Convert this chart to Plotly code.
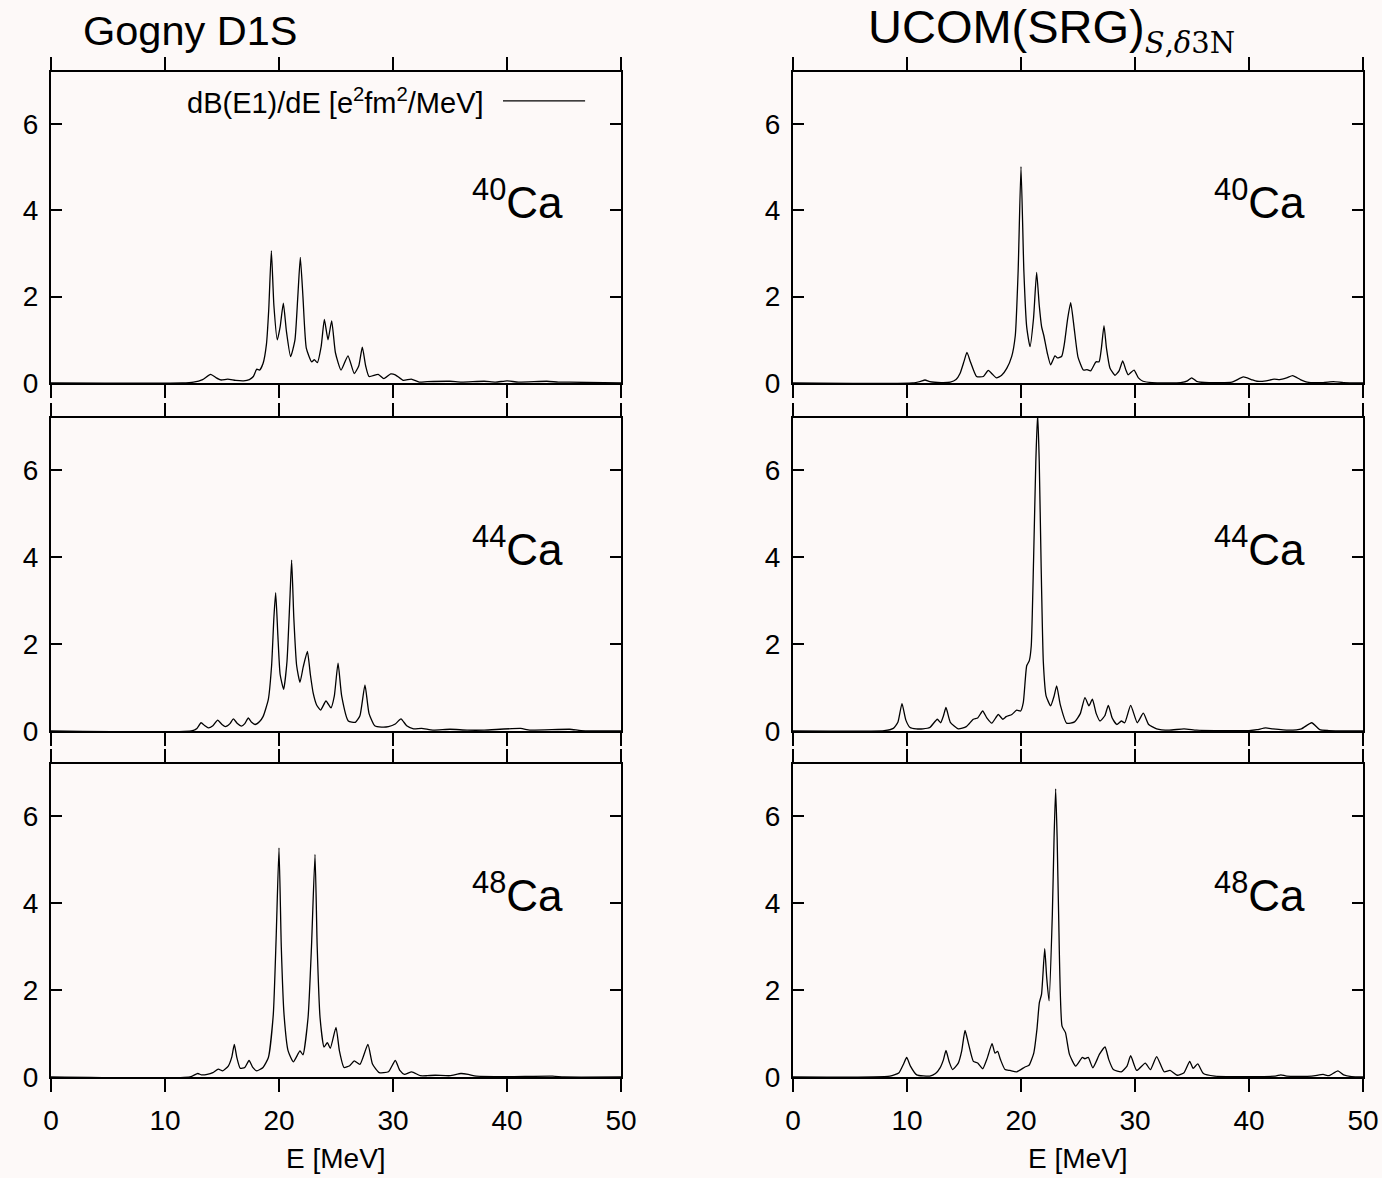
import plotly.graph_objects as go

# ---------------- data ----------------
panel_titles = ["Gogny D1S",
                "UCOM(SRG)<sub><span style=\"font-family:'DejaVu Serif',serif;font-size:29px\"><i>S</i>,<i>δ</i>3N</span></sub>"]
nuclei = ["40", "44", "48"]
x_ticks = [0, 10, 20, 30, 40, 50]
y_ticks = [0, 2, 4, 6]

gogny40_E = [0, 11.5, 12.5, 13.3, 14.0, 14.5, 14.9, 15.5, 16.2, 16.9, 17.4, 17.75, 18.05, 18.3, 18.6, 18.9, 19.1,
             19.33, 19.55, 19.85, 20.1, 20.38, 20.65, 21.02, 21.4, 21.65, 21.87, 22.1, 22.4, 22.87, 23.1, 23.36,
             23.7, 23.98, 24.3, 24.62, 24.95, 25.44, 26.05, 26.6, 27.0, 27.31, 27.6, 27.9, 28.7, 29.2, 29.8, 30.2,
             30.9, 31.6, 32.3, 33.0, 35.0, 36.0, 38.0, 39.0, 40.0, 41.0, 43.5, 44.5, 45.5, 50]
gogny40_B = [0, 0.0, 0.02, 0.08, 0.20, 0.12, 0.07, 0.09, 0.06, 0.05, 0.08, 0.15, 0.32, 0.30, 0.45, 0.9, 1.7,
             3.06, 1.8, 1.0, 1.3, 1.85, 1.2, 0.61, 1.0, 2.0, 2.91, 2.0, 0.8, 0.49, 0.54, 0.47,
             0.85, 1.47, 1.0, 1.44, 0.7, 0.30, 0.63, 0.22, 0.4, 0.83, 0.4, 0.15, 0.20, 0.10, 0.21, 0.19,
             0.06, 0.09, 0.02, 0.03, 0.04, 0.02, 0.04, 0.02, 0.05, 0.02, 0.04, 0.02, 0.02, 0]

ucom40_E = [0, 10.5, 11.2, 11.58, 12.0, 13.0, 13.8, 14.3, 14.65, 15.0, 15.26, 15.55, 16.1, 16.7, 17.13, 17.5,
            17.85, 18.3, 18.75, 19.18, 19.5, 19.75, 20.0, 20.25, 20.5, 20.79, 21.1, 21.37, 21.6, 21.81, 22.0,
            22.3, 22.6, 22.98, 23.2, 23.57, 23.8, 24.1, 24.36, 24.65, 25.0, 25.47, 25.8, 26.1, 26.58, 26.85,
            27.05, 27.28, 27.5, 27.8, 28.25, 28.6, 28.92, 29.2, 29.4, 29.91, 30.3, 30.7, 31.5, 34.0, 34.6,
            34.97, 35.4, 36.5, 38.5, 39.5, 40.2, 40.7, 41.5, 42.2, 42.7, 43.3, 43.83, 44.5, 45.1, 46.5, 47.4,
            48.3, 50]
ucom40_B = [0, 0, 0.04, 0.07, 0.03, 0.01, 0.02, 0.08, 0.22, 0.5, 0.71, 0.5, 0.15, 0.15, 0.29, 0.2,
            0.12, 0.18, 0.34, 0.61, 1.1, 2.6, 5.01, 2.6, 1.3, 0.84, 1.5, 2.56, 1.8, 1.30, 1.1,
            0.7, 0.42, 0.63, 0.58, 0.62, 0.9, 1.5, 1.86, 1.3, 0.6, 0.30, 0.31, 0.28, 0.49, 0.49,
            0.8, 1.33, 0.8, 0.35, 0.18, 0.28, 0.51, 0.3, 0.19, 0.30, 0.12, 0.04, 0.01, 0.01, 0.05,
            0.12, 0.04, 0.01, 0.02, 0.14, 0.08, 0.04, 0.05, 0.09, 0.08, 0.12, 0.17, 0.08, 0.02, 0.01, 0.03,
            0.01, 0]

gogny44_E = [0, 12.3, 12.8, 13.16, 13.5, 13.8, 14.2, 14.62, 15.0, 15.3, 15.7, 16.0, 16.35, 16.7, 17.0, 17.31,
             17.6, 17.9, 18.3, 18.6, 19.06, 19.35, 19.55, 19.71, 19.9, 20.1, 20.41, 20.7, 20.95, 21.11, 21.3,
             21.55, 21.84, 22.13, 22.49, 22.75, 23.0, 23.3, 23.65, 24.12, 24.56, 24.85, 25.18, 25.5, 26.08,
             26.7, 27.1, 27.54, 27.9, 28.4, 29.0, 29.6, 30.2, 30.7, 31.2, 31.8, 32.5, 33.5, 35.0, 36.5, 38.0,
             41.2, 42.0, 45.5, 46.5, 50]
gogny44_B = [0, 0, 0.06, 0.19, 0.12, 0.07, 0.12, 0.25, 0.15, 0.10, 0.17, 0.28, 0.17, 0.11, 0.17, 0.30,
             0.2, 0.15, 0.22, 0.33, 0.72, 1.5, 2.6, 3.18, 2.2, 1.3, 0.96, 1.6, 3.0, 3.93, 2.6,
             1.5, 1.12, 1.48, 1.83, 1.3, 0.87, 0.6, 0.48, 0.69, 0.53, 0.8, 1.56, 0.8, 0.23,
             0.20, 0.35, 1.06, 0.4, 0.12, 0.09, 0.10, 0.16, 0.28, 0.12, 0.05, 0.06, 0.02, 0.04, 0.02, 0.02,
             0.06, 0.02, 0.04, 0.01, 0]

ucom44_E = [0, 8.0, 8.8, 9.2, 9.56, 9.9, 10.27, 10.8, 11.4, 12.0, 12.66, 12.95, 13.2, 13.42, 13.8, 14.5, 15.2,
            15.82, 16.2, 16.64, 17.0, 17.44, 18.01, 18.4, 18.7, 19.2, 19.62, 19.97, 20.2, 20.5, 20.73, 20.9,
            21.1, 21.3, 21.46, 21.6, 21.76, 21.96, 22.2, 22.6, 22.9, 23.13, 23.45, 24.0, 24.7, 25.2, 25.61,
            25.96, 26.26, 26.6, 26.93, 27.35, 27.66, 28.0, 28.4, 28.8, 29.1, 29.62, 30.2, 30.73, 31.2, 31.9,
            33.0, 34.3, 35.4, 37.0, 40.0, 40.7, 41.46, 42.1, 43.5, 44.6, 45.5, 46.2, 47.0, 50]
ucom44_B = [0, 0.01, 0.06, 0.2, 0.63, 0.25, 0.08, 0.05, 0.05, 0.08, 0.27, 0.19, 0.35, 0.54, 0.2, 0.05, 0.1,
            0.27, 0.3, 0.46, 0.3, 0.18, 0.38, 0.27, 0.33, 0.38, 0.48, 0.46, 0.65, 1.50, 1.62, 1.96,
            3.9, 6.2, 7.3, 6.2, 3.9, 1.58, 0.81, 0.58, 0.8, 1.04, 0.6, 0.18, 0.21, 0.4, 0.77,
            0.58, 0.73, 0.4, 0.23, 0.35, 0.59, 0.3, 0.15, 0.23, 0.19, 0.59, 0.19, 0.41, 0.15, 0.05,
            0.02, 0.05, 0.02, 0.01, 0.01, 0.03, 0.07, 0.05, 0.02, 0.05, 0.19, 0.03, 0.01, 0]

gogny48_E = [0, 12.2, 12.87, 13.2, 13.7, 14.2, 14.68, 15.06, 15.55, 15.85, 16.08, 16.3, 16.6, 17.0, 17.37, 17.7,
             18.05, 18.6, 19.07, 19.5, 19.75, 20.0, 20.2, 20.44, 20.8, 21.26, 21.84, 22.1, 22.55, 22.85, 23.16,
             23.35, 23.6, 23.95, 24.24, 24.5, 25.0, 25.3, 25.7, 26.2, 26.6, 27.1, 27.8, 28.2, 28.8, 29.6, 30.2,
             30.6, 31.0, 31.64, 32.4, 33.0, 33.7, 35.0, 35.96, 36.6, 37.3, 40.0, 44.0, 45.0, 50]
gogny48_B = [0, 0, 0.08, 0.05, 0.06, 0.10, 0.18, 0.14, 0.25, 0.45, 0.75, 0.45, 0.20, 0.22, 0.38, 0.22,
             0.14, 0.22, 0.45, 1.44, 3.2, 5.27, 3.0, 1.44, 0.6, 0.35, 0.60, 0.51, 1.37, 3.0, 5.12,
             3.0, 1.37, 0.69, 0.79, 0.66, 1.14, 0.6, 0.22, 0.26, 0.37, 0.29, 0.75, 0.3, 0.10, 0.12, 0.38,
             0.15, 0.06, 0.12, 0.03, 0.03, 0.04, 0.03, 0.08, 0.06, 0.02, 0.01, 0.02, 0.0, 0]

ucom48_E = [0, 8.5, 9.3, 9.7, 9.97, 10.3, 10.85, 12.0, 12.5, 12.9, 13.2, 13.42, 13.7, 14.0, 14.5, 14.8, 15.09,
            15.38, 15.82, 16.2, 16.64, 17.05, 17.46, 17.72, 17.95, 18.2, 18.6, 19.03, 19.62, 20.35, 20.7, 21.12,
            21.4, 21.61, 21.8, 22.08, 22.25, 22.46, 22.75, 22.9, 23.04, 23.17, 23.3, 23.6, 23.9, 24.25, 24.8,
            25.38, 25.6, 25.9, 26.3, 26.9, 27.37, 27.7, 28.1, 28.8, 29.3, 29.62, 30.15, 30.9, 31.35, 31.9,
            32.55, 33.07, 33.7, 34.3, 34.8, 35.1, 35.5, 36.0, 37.0, 38.0, 42.3, 42.8, 43.3, 45.5, 46.5, 47.0,
            47.8, 48.3, 49.0, 50]
ucom48_B = [0, 0.02, 0.1, 0.3, 0.45, 0.25, 0.05, 0.02, 0.08, 0.21, 0.4, 0.61, 0.35, 0.17, 0.32, 0.6, 1.07,
            0.78, 0.36, 0.32, 0.19, 0.44, 0.77, 0.55, 0.59, 0.4, 0.17, 0.15, 0.12, 0.23, 0.27, 0.55,
            1.1, 1.71, 1.9, 2.95, 2.3, 1.75, 3.75, 5.5, 6.63, 5.5, 3.75, 1.17, 1.02, 0.52, 0.25,
            0.45, 0.42, 0.45, 0.21, 0.53, 0.69, 0.4, 0.17, 0.12, 0.25, 0.49, 0.15, 0.32, 0.17, 0.47,
            0.12, 0.15, 0.04, 0.1, 0.36, 0.2, 0.3, 0.08, 0.02, 0.01, 0.02, 0.05, 0.02, 0.02, 0.06, 0.03,
            0.14, 0.05, 0.01, 0]

series = [
    [(gogny40_E, gogny40_B), (ucom40_E, ucom40_B)],
    [(gogny44_E, gogny44_B), (ucom44_E, ucom44_B)],
    [(gogny48_E, gogny48_B), (ucom48_E, ucom48_B)],
]

legend_text = "dB(E1)/dE [e<sup>2</sup>fm<sup>2</sup>/MeV]"
x_title = "E [MeV]"

# ---------------- layout ----------------
W, H = 1382, 1178
BG = "#fdf9f8"
FONT = "Liberation Sans, Arial, Helvetica, sans-serif"

col_px = [(51, 621), (793, 1363)]
row_px = [(72, 383), (418, 731), (764, 1077)]

fig = go.Figure()
layout = dict(
    width=W, height=H, margin=dict(l=0, r=0, t=0, b=0, autoexpand=False),
    paper_bgcolor=BG, plot_bgcolor=BG, showlegend=False,
    font=dict(family=FONT, size=28, color="black"),
)
annotations = []
shapes = []

for r in range(3):
    for c in range(2):
        n = r * 2 + c + 1
        xs = "" if n == 1 else str(n)
        E, B = series[r][c]
        fig.add_trace(go.Scatter(
            x=E, y=B, mode="lines", xaxis="x" + xs, yaxis="y" + xs,
            line=dict(color="black", width=1.3, shape="spline", smoothing=0.5),
            hoverinfo="skip"))
        x0, x1 = col_px[c]
        y0, y1 = row_px[r]
        layout["xaxis" + xs] = dict(
            domain=[x0 / W, x1 / W], range=[0, 50], anchor="y" + xs, automargin=False,
            tickvals=x_ticks, ticks="outside", ticklen=13, tickwidth=2, tickcolor="black",
            showline=True, linewidth=2, linecolor="black", mirror="allticks",
            showgrid=False, zeroline=False, showticklabels=(r == 2),
            tickfont=dict(size=28, family=FONT), ticklabelstandoff=4,
        )
        layout["yaxis" + xs] = dict(
            domain=[1 - y1 / H, 1 - y0 / H], range=[0, 7.2], anchor="x" + xs, automargin=False,
            tickvals=y_ticks, ticks="inside", ticklen=11, tickwidth=2, tickcolor="black",
            showline=True, linewidth=2, linecolor="black", mirror="allticks",
            showgrid=False, zeroline=False,
            tickfont=dict(size=28, family=FONT), ticklabelstandoff=5,
        )
        annotations.append(dict(
            text="<sup>" + nuclei[r] + "</sup>Ca", xref="x" + xs + " domain", yref="y" + xs + " domain",
            x=0.902, y=0.59, xanchor="right", yanchor="middle", showarrow=False,
            font=dict(size=44, family=FONT)))

# column titles
annotations.append(dict(text=panel_titles[0], xref="paper", yref="paper", x=81 / W, y=1 - 30 / H,
                        xanchor="left", yanchor="middle", showarrow=False, font=dict(size=41.5, family=FONT)))
annotations.append(dict(text=panel_titles[1], xref="paper", yref="paper", x=866 / W, y=1 - 30 / H,
                        xanchor="left", yanchor="middle", showarrow=False, font=dict(size=47, family=FONT)))
# x axis titles
for c in range(2):
    x0, x1 = col_px[c]
    annotations.append(dict(text=x_title, xref="paper", yref="paper", x=(x0 + x1) / 2 / W, y=1 - 1158 / H,
                            xanchor="center", yanchor="middle", showarrow=False, font=dict(size=28, family=FONT)))
# legend key (gnuplot style: text left of the line sample)
annotations.append(dict(text=legend_text, xref="x domain", yref="y domain", x=0.764, y=0.907,
                        xanchor="right", yanchor="middle", showarrow=False, font=dict(size=29, family=FONT)))
shapes.append(dict(type="line", xref="x domain", yref="y domain", x0=0.793, x1=0.937, y0=0.907, y1=0.907,
                   line=dict(color="black", width=1.3)))

layout["annotations"] = annotations
layout["shapes"] = shapes
fig.update_layout(**layout)
fig.write_html("out.html")
